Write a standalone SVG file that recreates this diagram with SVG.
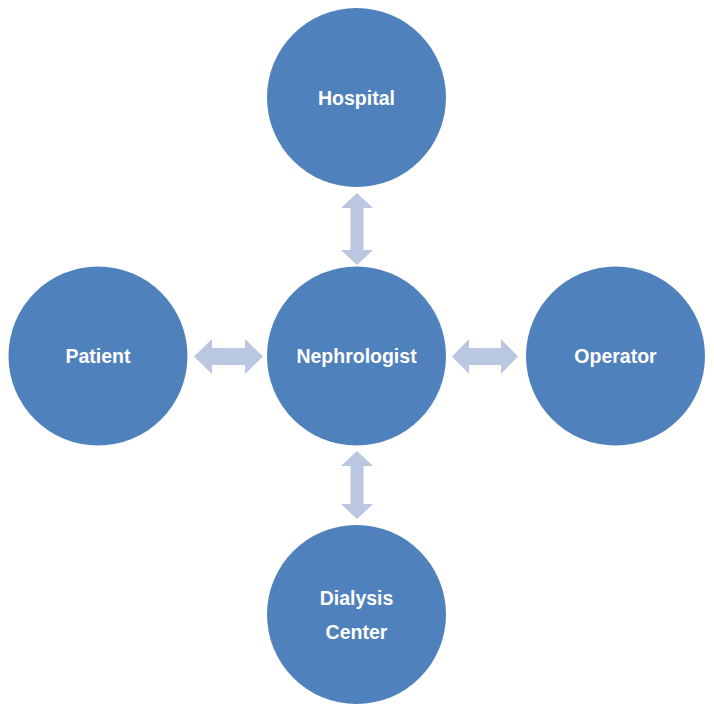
<svg xmlns="http://www.w3.org/2000/svg" width="714" height="714" viewBox="0 0 714 714">
<style>
.node circle{fill:#4F81BD}
.node text{fill:#FFFFFF;font-family:"Liberation Sans",Arial,sans-serif;font-weight:bold;font-size:19.5px;text-anchor:middle}
.arrow{fill:#B9C7E0}
</style>
<rect width="714" height="714" fill="#FFFFFF"/>
<g id="connectors">
<polygon class="arrow" points="357,193 373,208 363.5,208 363.5,250 373,250 357,265 341,250 350.5,250 350.5,208 341,208"/>
<polygon class="arrow" points="357,451 373,466 363.5,466 363.5,504 373,504 357,519 341,504 350.5,504 350.5,466 341,466"/>
<polygon class="arrow" points="194,356.5 212,339 212,348 245,348 245,339 263,356.5 245,374 245,365 212,365 212,374"/>
<polygon class="arrow" points="452,356.5 469,339 469,348 501,348 501,339 518,356.5 501,374 501,365 469,365 469,374"/>
</g>
<g id="hospital" class="node"><circle cx="356.5" cy="97.5" r="89.5"/><text x="356.5" y="104.5">Hospital</text></g>
<g id="nephrologist" class="node"><circle cx="356.5" cy="356" r="89.5"/><text x="356.5" y="362.5">Nephrologist</text></g>
<g id="patient" class="node"><circle cx="98" cy="356" r="89.5"/><text x="98" y="362.5">Patient</text></g>
<g id="operator" class="node"><circle cx="615.5" cy="356" r="89.5"/><text x="615.5" y="362.5">Operator</text></g>
<g id="dialysis-center" class="node"><circle cx="356.5" cy="614.5" r="89.5"/><text x="356.5" y="604.5">Dialysis</text><text x="356.5" y="638.5">Center</text></g>
</svg>
